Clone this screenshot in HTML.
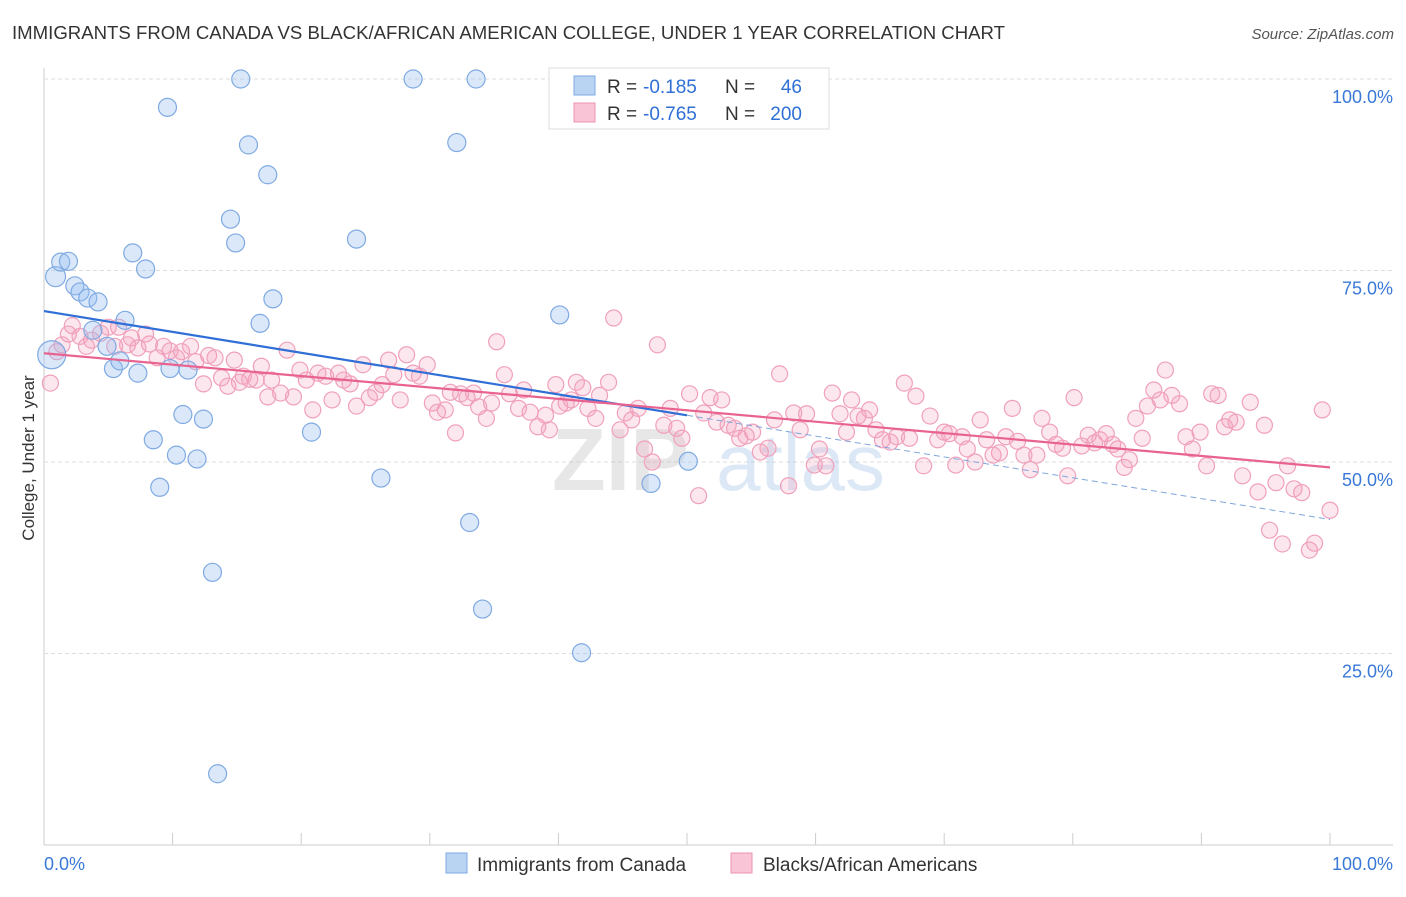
<!DOCTYPE html>
<html><head><meta charset="utf-8">
<style>
body{margin:0;background:#fff;font-family:"Liberation Sans",sans-serif;}
svg text{font-family:"Liberation Sans",sans-serif;}
</style></head>
<body>
<svg id="chart" width="1406" height="892" viewBox="0 0 1406 892" xmlns="http://www.w3.org/2000/svg">
<text x="12" y="39" font-size="18" fill="#333" textLength="993" lengthAdjust="spacingAndGlyphs">IMMIGRANTS FROM CANADA VS BLACK/AFRICAN AMERICAN COLLEGE, UNDER 1 YEAR CORRELATION CHART</text>
<text x="1394" y="39" font-size="15" fill="#555" text-anchor="end" font-style="italic">Source: ZipAtlas.com</text>
<text transform="translate(34,458) rotate(-90)" font-size="17" fill="#333" text-anchor="middle">College, Under 1 year</text>
<g id="grid"></g>
<g opacity="0.35">
<text x="552" y="490" font-size="88" fill="#bbb" font-family="Liberation Serif" font-weight="bold">ZIP</text>
<text x="716" y="490" font-size="80" fill="#9ec0e6">atlas</text>
</g>
<g id="pink"></g>
<g id="blue"></g>
<g id="lines"></g>
<g>
<rect x="549" y="68" width="280" height="61" fill="#fff" stroke="#ddd"/>
<rect x="574" y="76" width="21" height="19" fill="#b9d3f3" stroke="#7da9e0"/>
<rect x="574" y="103" width="21" height="19" fill="#f9c5d6" stroke="#ee93b1"/>
<text x="607" y="93" font-size="19" fill="#333">R =</text>
<text x="643" y="93" font-size="19" fill="#2f6fd6">-0.185</text>
<text x="725" y="93" font-size="19" fill="#333">N =</text>
<text x="802" y="93" font-size="19" fill="#2f6fd6" text-anchor="end">46</text>
<text x="607" y="120" font-size="19" fill="#333">R =</text>
<text x="643" y="120" font-size="19" fill="#2f6fd6">-0.765</text>
<text x="725" y="120" font-size="19" fill="#333">N =</text>
<text x="802" y="120" font-size="19" fill="#2f6fd6" text-anchor="end">200</text>
</g>
<g>
<rect x="446" y="853" width="21" height="20" fill="#b9d3f3" stroke="#7da9e0"/>
<text x="477" y="871" font-size="19" fill="#333">Immigrants from Canada</text>
<rect x="731" y="853" width="21" height="20" fill="#f9c5d6" stroke="#ee93b1"/>
<text x="763" y="871" font-size="19" fill="#333">Blacks/African Americans</text>
</g>
<text x="44" y="870" font-size="18" fill="#3a78d8">0.0%</text>
<text x="1393" y="870" font-size="18" fill="#3a78d8" text-anchor="end">100.0%</text>
</svg>
<script>
const yTicks=[25,50,75,100];
const yTickLabels=["25.0%","50.0%","75.0%","100.0%"];
const xTicks=[0,10,20,30,40,50,60,70,80,90,100];
const blueX=[0.6,0.9,1.3,1.9,2.4,2.8,3.4,4.2,3.8,4.9,5.4,5.9,6.3,6.9,7.9,7.3,9.6,8.5,9.0,9.8,10.3,10.8,11.2,11.9,12.4,13.1,13.5,14.5,14.9,15.3,15.9,17.4,16.8,17.8,20.8,24.3,26.2,28.7,32.1,33.1,33.6,34.1,40.1,41.8,47.2,50.1];
const blueY=[64.0,74.2,76.1,76.2,73.0,72.2,71.4,70.9,67.2,65.1,62.2,63.2,68.5,77.3,75.2,61.6,96.3,52.9,46.7,62.2,50.9,56.2,62.0,50.4,55.6,35.6,9.3,81.7,78.6,100,91.4,87.5,68.1,71.3,53.9,79.1,47.9,100,91.7,42.1,100,30.8,69.2,25.1,47.2,50.1];
const blueR=[14,10,9,9,9,9,9,9,9,9,9,9,9,9,9,9,9,9,9,9,9,9,9,9,9,9,9,9,9,9,9,9,9,9,9,9,9,9,9,9,9,9,9,9,9,9];
const pinkX=[0.5,1,1.4,1.9,2.2,2.8,3.3,3.7,4.4,5,5.5,5.8,6.5,6.8,7.3,7.9,8.2,8.8,9.3,9.8,10.3,10.7,11.4,11.8,12.4,12.8,13.3,13.8,14.3,14.8,15.2,15.5,16,16.5,16.9,17.4,17.7,18.4,18.9,19.4,19.9,20.4,20.9,21.3,21.9,22.4,22.9,23.3,23.8,24.3,24.8,25.3,25.8,26.3,26.8,27.2,27.7,28.2,28.7,29.2,29.8,30.2,30.6,31.2,31.6,32,32.4,32.9,33.4,33.8,34.4,34.8,35.2,35.8,36.2,36.9,37.3,37.8,38.4,39,39.3,39.8,40.1,40.6,41,41.4,41.9,42.3,42.9,43.2,43.9,44.3,44.8,45.2,45.7,46.2,46.7,47.3,47.7,48.2,48.7,49.2,49.6,50.2,50.9,51.3,51.8,52.3,52.7,53.2,53.7,54.1,54.6,55.1,55.7,56.3,56.8,57.2,57.9,58.3,58.8,59.3,59.9,60.3,60.8,61.3,61.9,62.4,62.8,63.3,63.8,64.2,64.7,65.2,65.8,66.3,66.9,67.3,67.8,68.4,68.9,69.5,70,70.4,70.9,71.4,71.8,72.4,72.8,73.3,73.8,74.3,74.8,75.3,75.7,76.2,76.7,77.2,77.6,78.2,78.7,79.2,79.6,80.1,80.7,81.2,81.7,82.1,82.6,83.1,83.5,84,84.4,84.9,85.4,85.8,86.3,86.8,87.2,87.7,88.3,88.8,89.3,89.9,90.4,90.8,91.3,91.8,92.2,92.7,93.2,93.8,94.4,94.9,95.3,95.8,96.3,96.7,97.2,97.8,98.4,98.8,99.4,100];
const pinkY=[60.3,64.4,65.3,66.7,67.8,66.4,65.1,65.9,66.8,67.6,65.1,67.6,65.3,66.2,64.9,66.7,65.4,63.6,65.1,64.5,63.6,64.4,65.1,63.1,60.2,63.9,63.6,61,59.9,63.3,60.4,61.2,60.8,60.7,62.5,58.5,60.7,59,64.6,58.5,62,60.7,56.8,61.6,61.2,58.1,61.6,60.7,60.2,57.3,62.7,58.4,59.1,60.1,63.3,61.4,58.1,64,61.6,61.2,62.7,57.7,56.5,56.8,59.1,53.8,58.9,58.4,59,57.2,55.7,57.7,65.7,61.4,58.9,57,59.4,56.5,54.6,56.1,54.2,60.1,57.3,57.7,58.1,60.4,59.7,57,55.7,58.7,60.4,68.8,54.2,56.4,55.5,57,51.7,50,65.3,54.8,57,54.4,53.1,58.9,45.6,56.4,58.4,55.2,58.1,54.8,54.4,53.1,53.4,53.9,51.3,51.8,55.5,61.5,46.9,56.4,54.2,56.3,49.6,51.7,49.5,59,56.3,53.9,58.1,56,55.7,56.8,54.2,52.9,52.6,53.3,60.3,53.1,58.6,49.5,56,52.9,53.9,53.7,49.6,53.3,51.7,50,55.5,52.9,50.9,51.2,53.3,57,52.7,50.9,49,50.9,55.7,53.9,52.3,51.8,48.2,58.4,52.1,53.5,52.5,52.9,53.7,52.3,51.7,49.3,50.3,55.7,53.1,57.3,59.4,58.1,62,58.7,57.6,53.3,51.7,53.9,49.5,58.9,58.7,54.6,55.5,55.2,48.2,57.8,46.1,54.8,41.1,47.3,39.3,49.5,46.5,46,38.5,39.4,56.8,43.7];
const blueTrend=[69.7,56.1,42.5]; // values at x=0, 50, 100
const pinkTrend=[64.2,49.3];      // values at x=0, 100

const X0=44,X1=1330,Y0=845,Y100=79;
const sx=v=>X0+(X1-X0)*v/100;
const sy=v=>Y0-(Y0-Y100)*v/100;
const NS="http://www.w3.org/2000/svg";
function mk(tag,attrs,parent){const e=document.createElementNS(NS,tag);for(const k in attrs)e.setAttribute(k,attrs[k]);parent.appendChild(e);return e;}
const grid=document.getElementById('grid');
const ax=mk('line',{x1:44,y1:68,x2:44,y2:845,stroke:'#ccc'},grid);


const bx=mk('line',{x1:44,y1:845,x2:1393,y2:845,stroke:'#ccc'},grid);


yTicks.forEach((t,i)=>{
  const g=mk('line',{x1:44,y1:sy(t),x2:1393,y2:sy(t),stroke:'#ddd','stroke-dasharray':'4,3'},grid);
  
  
  const l=mk('text',{x:1393,y:sy(t)+24,'font-size':18,fill:'#3a78d8','text-anchor':'end'},grid);
  l.textContent=yTickLabels[i];
  
  
});
xTicks.forEach(t=>{
  const k=mk('line',{x1:sx(t),y1:833,x2:sx(t),y2:845,stroke:'#ccc'},grid);
  
  
});
const pg=document.getElementById('pink');
pinkX.forEach((x,i)=>{
  const c=mk('circle',{cx:sx(x),cy:sy(pinkY[i]),r:8,fill:'rgba(244,160,188,0.25)',stroke:'#f0a0bb','stroke-width':1.2},pg);
  
  
});
const bg=document.getElementById('blue');
blueX.forEach((x,i)=>{
  const c=mk('circle',{cx:sx(x),cy:sy(blueY[i]),r:blueR[i],fill:'rgba(150,190,240,0.35)',stroke:'#7faae2','stroke-width':1.2},bg);
  
  
});
const lg=document.getElementById('lines');
const b1=mk('line',{x1:sx(0),y1:sy(blueTrend[0]),x2:sx(50),y2:sy(blueTrend[1]),stroke:'#2f6fd6','stroke-width':2.2},lg);


const b2=mk('line',{x1:sx(50),y1:sy(blueTrend[1]),x2:sx(100),y2:sy(blueTrend[2]),stroke:'#7fa6de','stroke-width':1,'stroke-dasharray':'6,4'},lg);


const p1=mk('line',{x1:sx(0),y1:sy(pinkTrend[0]),x2:sx(100),y2:sy(pinkTrend[1]),stroke:'#e8638f','stroke-width':2.2},lg);


</script>
</body></html>
